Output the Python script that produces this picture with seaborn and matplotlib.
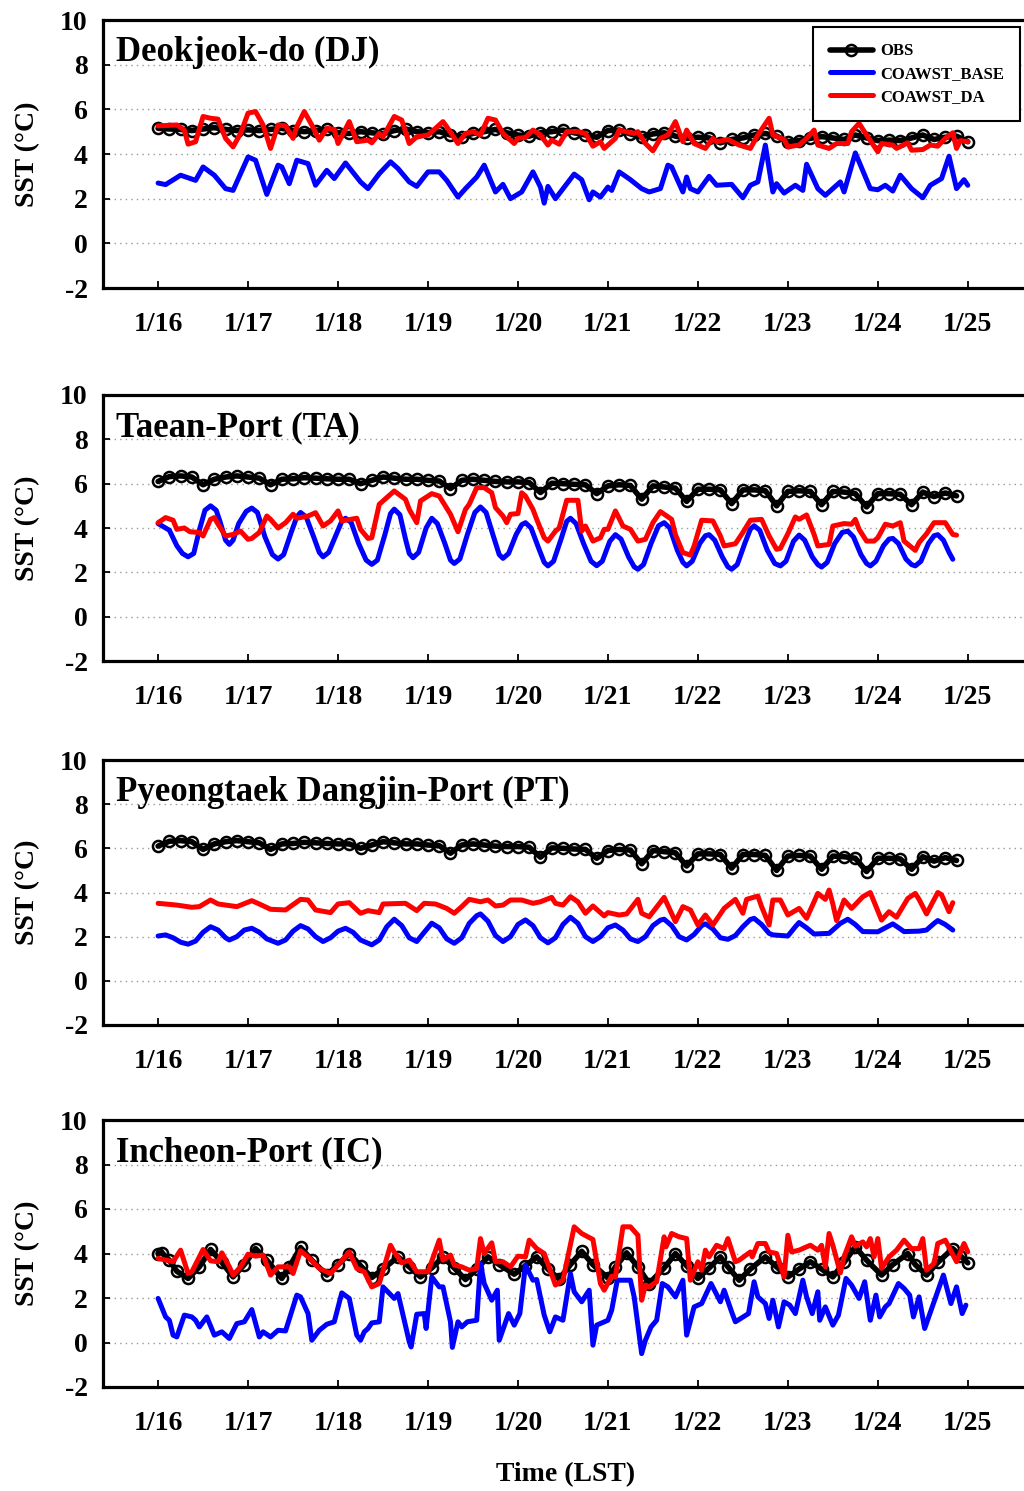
import numpy as np
import pandas as pd
import matplotlib
matplotlib.use("Agg")
import matplotlib.pyplot as plt
import seaborn as sns

# ---------------- data (hours after 1/16 00:00 LST, SST in degC) ----------------
day_labels = ["1/16", "1/17", "1/18", "1/19", "1/20", "1/21", "1/22", "1/23", "1/24", "1/25"]
y_ticks = [-2, 0, 2, 4, 6, 8, 10]
series_names = ["OBS", "COAWST_BASE", "COAWST_DA"]
titles = ["Deokjeok-do (DJ)", "Taean-Port (TA)", "Pyeongtaek Dangjin-Port (PT)", "Incheon-Port (IC)"]

# Deokjeok-do
dj_obs_h = list(range(0, 217, 3))
dj_obs = [5.15, 5.12, 5.10, 5.05, 5.12, 5.18, 5.10, 5.05,
          5.08, 5.05, 5.10, 5.15, 5.05, 5.00, 5.05, 5.10,
          4.95, 4.92, 5.00, 4.95, 4.90, 5.05, 5.12, 5.00,
          4.95, 5.00, 4.85, 4.78, 4.92, 5.00, 5.10, 4.95,
          4.85, 4.80, 4.95, 5.00, 5.07, 4.95, 4.85, 4.75,
          5.05, 5.07, 4.90, 4.75, 4.90, 4.95, 4.80, 4.70,
          4.75, 4.72, 4.50, 4.65, 4.72, 4.85, 4.92, 4.80,
          4.55, 4.60, 4.70, 4.78, 4.72, 4.65, 4.85, 4.72,
          4.60, 4.62, 4.60, 4.72, 4.85, 4.65, 4.75, 4.80,
          4.55]
dj_base_pts = [(0, 2.70), (2, 2.63), (6, 3.05), (10, 2.82), (12, 3.42), (15, 3.05), (18, 2.45), (20, 2.37),
               (24, 3.87), (26, 3.72), (29, 2.19), (32, 3.50), (33, 3.42), (35, 2.67), (37, 3.72), (40, 3.57),
               (42, 2.60), (45, 3.27), (47, 2.90), (50, 3.60), (54, 2.75), (56, 2.45), (59, 3.12), (62, 3.65),
               (64, 3.35), (67, 2.75), (69, 2.55), (72, 3.20), (75, 3.20), (77, 2.82), (80, 2.07), (82, 2.45),
               (85, 2.97), (87, 3.50), (90, 2.30), (92, 2.64), (94, 2.00), (97, 2.30), (100, 3.20), (102, 2.52),
               (103, 1.80), (104, 2.55), (106, 2.00), (111, 3.10), (113, 2.85), (115, 1.95), (116, 2.30), (118, 2.07),
               (120, 2.52), (121, 2.37), (123, 3.20), (126, 2.85), (129, 2.45), (131, 2.30), (134, 2.45), (136, 3.50),
               (137, 3.42), (140, 2.30), (141, 2.97), (142, 2.45), (144, 2.30), (147, 3.00), (149, 2.60), (153, 2.64),
               (156, 2.04), (158, 2.60), (160, 2.75), (162, 4.40), (164, 2.30), (165, 2.67), (167, 2.25), (170, 2.60),
               (172, 2.37), (173, 3.54), (176, 2.45), (178, 2.15), (182, 2.75), (183, 2.30), (186, 4.05), (190, 2.45),
               (192, 2.40), (194, 2.60), (196, 2.34), (198, 3.05), (201, 2.45), (204, 2.04), (206, 2.60), (209, 2.90),
               (211, 3.90), (213, 2.45), (215, 2.85), (216, 2.60)]
dj_da_pts = [(0, 5.26), (5, 5.30), (7, 5.07), (8, 4.44), (10, 4.55), (12, 5.68), (14, 5.60), (16, 5.56),
             (18, 4.70), (20, 4.32), (22, 4.92), (24, 5.83), (26, 5.90), (28, 5.30), (30, 4.25), (32, 5.30),
             (34, 5.26), (36, 4.70), (37, 5.22), (39, 5.90), (41, 5.30), (43, 4.62), (45, 5.15), (47, 5.10),
             (48, 4.47), (51, 5.45), (53, 4.55), (56, 4.62), (57, 4.50), (59, 4.92), (60, 4.77), (63, 5.68),
             (65, 5.52), (67, 4.47), (69, 4.77), (72, 4.85), (76, 5.45), (77, 5.22), (80, 4.47), (82, 4.92),
             (84, 5.00), (86, 4.85), (88, 5.60), (90, 5.52), (92, 4.92), (95, 4.47), (96, 4.70), (98, 4.74),
             (100, 5.07), (102, 4.85), (104, 4.40), (105, 4.62), (107, 4.44), (109, 5.00), (112, 5.00), (114, 4.92),
             (116, 4.35), (118, 4.55), (119, 4.25), (122, 4.70), (123, 5.07), (127, 4.92), (128, 5.00), (130, 4.47),
             (132, 4.14), (134, 4.70), (136, 4.85), (138, 5.45), (140, 4.55), (141, 5.07), (143, 4.47), (146, 4.25),
             (148, 4.70), (149, 4.55), (152, 4.65), (155, 4.40), (158, 4.25), (160, 4.85), (163, 5.60), (164, 4.85),
             (167, 4.65), (168, 4.32), (171, 4.40), (173, 4.70), (175, 5.07), (176, 4.40), (179, 4.25), (181, 4.47),
             (184, 4.47), (185, 5.00), (187, 5.37), (189, 4.85), (192, 4.10), (193, 4.47), (196, 4.40), (197, 4.25),
             (200, 4.50), (201, 4.17), (204, 4.20), (206, 4.40), (208, 4.35), (210, 4.70), (212, 4.95), (213, 4.25),
             (214, 4.60), (216, 4.55)]

# Taean-Port
ta_obs_h = list(range(0, 214, 3))
ta_obs = [6.10, 6.32, 6.35, 6.30, 5.95, 6.20, 6.30, 6.35,
          6.30, 6.25, 5.95, 6.20, 6.22, 6.27, 6.25, 6.22,
          6.20, 6.20, 6.00, 6.15, 6.30, 6.25, 6.20, 6.20,
          6.15, 6.12, 5.78, 6.15, 6.20, 6.15, 6.10, 6.08,
          6.08, 6.05, 5.60, 6.02, 6.00, 5.97, 5.95, 5.55,
          5.90, 5.95, 5.92, 5.30, 5.90, 5.85, 5.80, 5.20,
          5.75, 5.75, 5.72, 5.10, 5.72, 5.72, 5.68, 5.00,
          5.65, 5.68, 5.65, 5.05, 5.65, 5.62, 5.55, 4.95,
          5.55, 5.55, 5.52, 5.05, 5.62, 5.42, 5.58, 5.45]
ta_base_pts = [(0, 4.20), (3, 3.90), (5, 3.20), (6.5, 2.85), (8, 2.70), (9.5, 2.85), (11, 3.90), (12.5, 4.80),
               (14, 5.00), (15.5, 4.80), (16.5, 4.30), (18, 3.45), (19, 3.26), (20, 3.45), (21.5, 4.20), (23.5, 4.75),
               (25, 4.90), (26.5, 4.70), (28.5, 3.60), (30.5, 2.80), (32, 2.60), (33.5, 2.80), (35.5, 3.80), (37, 4.50),
               (38, 4.70), (39.5, 4.50), (41.5, 3.60), (43, 2.90), (44, 2.70), (45.5, 2.90), (47.5, 3.70), (49, 4.30),
               (50, 4.44), (51.5, 4.25), (53.5, 3.30), (55.5, 2.55), (57, 2.36), (58.5, 2.55), (60.5, 3.70), (62, 4.65),
               (63, 4.85), (64.5, 4.60), (66, 3.50), (67, 2.85), (68, 2.66), (69.5, 2.90), (71.5, 4.00), (73, 4.44),
               (74.5, 4.20), (76.5, 3.30), (78, 2.55), (79, 2.40), (80.5, 2.60), (82.5, 3.70), (84.5, 4.70), (86, 4.95),
               (87.5, 4.70), (89.5, 3.60), (91, 2.80), (92, 2.63), (93.5, 2.85), (95.5, 3.70), (97, 4.15), (98, 4.24),
               (99.5, 4.00), (101.5, 3.10), (103, 2.45), (104, 2.29), (105.5, 2.50), (107.5, 3.50), (109, 4.30), (110, 4.44),
               (111.5, 4.20), (113.5, 3.30), (115.5, 2.50), (117, 2.30), (118.5, 2.50), (120.5, 3.40), (122, 3.70), (123.5, 3.50),
               (125.5, 2.70), (127, 2.25), (128, 2.14), (129.5, 2.35), (131.5, 3.30), (133.5, 4.10), (135, 4.24), (136.5, 4.00),
               (138.5, 3.00), (140, 2.45), (141, 2.29), (142.5, 2.50), (144.5, 3.30), (146, 3.65), (147, 3.70), (148.5, 3.45),
               (150.5, 2.70), (152, 2.25), (153, 2.14), (154.5, 2.35), (156.5, 3.30), (158, 3.95), (159, 4.10), (160.5, 3.90),
               (162.5, 3.00), (164.5, 2.40), (166, 2.29), (167.5, 2.50), (169.5, 3.40), (171, 3.68), (172.5, 3.45), (174.5, 2.70),
               (176, 2.35), (177, 2.24), (178.5, 2.45), (180.5, 3.30), (182.5, 3.80), (184, 3.86), (185.5, 3.60), (187.5, 2.80),
               (189, 2.40), (190, 2.29), (191.5, 2.50), (193.5, 3.20), (195, 3.50), (196, 3.53), (197.5, 3.30), (199.5, 2.60),
               (201, 2.35), (202, 2.29), (203.5, 2.50), (205.5, 3.30), (207, 3.65), (208, 3.70), (209.5, 3.45), (211, 2.90),
               (212, 2.59)]
ta_da_pts = [(0, 4.24), (2, 4.47), (4, 4.35), (5, 3.94), (7, 4.00), (8.5, 3.83), (11, 3.80), (12, 3.64),
             (14, 4.39), (15, 4.47), (16, 4.17), (18, 3.64), (20, 3.71), (22, 3.86), (24, 3.49), (25, 3.53),
             (27, 3.80), (29, 4.54), (30, 4.39), (32, 4.00), (34, 4.24), (36, 4.62), (37, 4.44), (40, 4.54),
             (42, 4.69), (44, 4.09), (46, 4.32), (48, 4.77), (49, 4.32), (53, 4.44), (54, 3.94), (56, 3.53),
             (57, 3.56), (59, 5.07), (62, 5.52), (63, 5.67), (66, 5.29), (67, 4.84), (69, 4.24), (70, 5.22),
             (73, 5.55), (75, 5.44), (78, 4.62), (80, 3.83), (82, 4.84), (83, 5.07), (85, 5.82), (87, 5.82),
             (89, 5.59), (90, 4.92), (92, 4.54), (93, 4.24), (94, 4.62), (96, 4.65), (97, 5.59), (98, 5.44),
             (100, 4.84), (101, 4.39), (103, 3.56), (104, 3.41), (106, 3.86), (107, 4.00), (109, 5.25), (112, 5.25),
             (113, 3.86), (114, 4.09), (116, 3.41), (118, 3.56), (119, 3.94), (120, 3.94), (122, 4.77), (124, 4.09),
             (126, 3.94), (128, 3.41), (130, 3.49), (132, 4.24), (134, 4.74), (137, 4.39), (138, 3.71), (140, 2.89),
             (142, 2.78), (143, 3.19), (145, 4.35), (148, 4.32), (150, 3.64), (151, 3.19), (154, 3.29), (156, 3.80),
             (158, 4.35), (161, 4.39), (163, 3.64), (165, 3.04), (166, 3.08), (168, 3.74), (170, 4.50), (171, 4.39),
             (173, 4.59), (175, 3.71), (176, 3.19), (179, 3.26), (180, 4.09), (183, 4.20), (185, 4.17), (186, 4.39),
             (187, 3.94), (189, 3.41), (191, 3.41), (192, 3.56), (194, 4.17), (196, 4.09), (198, 4.24), (199, 3.41),
             (202, 2.99), (203, 3.34), (205, 3.74), (207, 4.24), (208, 4.24), (210, 4.24), (212, 3.71), (213, 3.68)]

# Pyeongtaek Dangjin-Port (observations identical to TA in the figure)
pt_obs_h = list(range(0, 214, 3))
pt_obs = [6.10, 6.32, 6.35, 6.30, 5.95, 6.20, 6.30, 6.35,
          6.30, 6.25, 5.95, 6.20, 6.22, 6.27, 6.25, 6.22,
          6.20, 6.20, 6.00, 6.15, 6.30, 6.25, 6.20, 6.20,
          6.15, 6.12, 5.78, 6.15, 6.20, 6.15, 6.10, 6.08,
          6.08, 6.05, 5.60, 6.02, 6.00, 5.97, 5.95, 5.55,
          5.90, 5.95, 5.92, 5.30, 5.90, 5.85, 5.80, 5.20,
          5.75, 5.75, 5.72, 5.10, 5.72, 5.72, 5.68, 5.00,
          5.65, 5.68, 5.65, 5.05, 5.65, 5.62, 5.55, 4.95,
          5.55, 5.55, 5.52, 5.05, 5.62, 5.42, 5.58, 5.45]
pt_base_pts = [(0, 2.03), (2, 2.08), (4, 1.95), (6, 1.75), (8, 1.66), (10, 1.80), (12, 2.20), (14, 2.45),
               (16, 2.30), (18, 1.95), (19, 1.85), (21, 2.00), (23, 2.30), (25, 2.38), (27, 2.20), (29, 1.90),
               (32, 1.70), (34, 1.85), (36, 2.25), (38, 2.50), (40, 2.35), (42, 2.00), (44, 1.78), (46, 1.95),
               (48, 2.25), (50, 2.38), (52, 2.20), (54, 1.85), (57, 1.63), (59, 1.85), (61, 2.45), (63, 2.79),
               (65, 2.50), (67, 1.95), (69, 1.78), (71, 2.20), (73, 2.61), (75, 2.40), (77, 1.90), (79, 1.70),
               (81, 1.95), (83, 2.60), (85, 2.95), (86, 3.03), (88, 2.70), (90, 2.05), (92, 1.78), (94, 2.00),
               (96, 2.55), (98, 2.76), (100, 2.50), (102, 1.95), (104, 1.72), (106, 1.95), (108, 2.55), (110, 2.88),
               (112, 2.60), (114, 2.00), (116, 1.78), (118, 2.00), (120, 2.40), (122, 2.53), (124, 2.30), (126, 1.90),
               (128, 1.78), (130, 2.00), (132, 2.50), (134, 2.75), (135, 2.79), (137, 2.50), (139, 2.00), (141, 1.85),
               (143, 2.10), (145, 2.50), (146, 2.58), (148, 2.35), (150, 1.95), (152, 1.88), (154, 2.05), (156, 2.45),
               (158, 2.78), (159, 2.83), (161, 2.55), (163, 2.15), (164, 2.08), (168, 2.03), (170, 2.45), (171, 2.64),
               (173, 2.40), (175, 2.12), (179, 2.15), (182, 2.60), (184, 2.79), (186, 2.55), (188, 2.23), (192, 2.22),
               (194, 2.40), (196, 2.58), (198, 2.35), (199, 2.23), (203, 2.25), (205, 2.30), (207, 2.60), (208, 2.73),
               (210, 2.55), (212, 2.30)]
pt_da_pts = [(0, 3.51), (5, 3.43), (9, 3.33), (11, 3.36), (14, 3.66), (16, 3.48), (21, 3.36), (25, 3.63),
             (27, 3.48), (30, 3.24), (34, 3.21), (38, 3.69), (40, 3.66), (42, 3.21), (46, 3.09), (48, 3.48),
             (51, 3.54), (54, 3.06), (56, 3.18), (59, 3.09), (60, 3.48), (66, 3.51), (69, 3.18), (71, 3.51),
             (74, 3.48), (77, 3.28), (79, 3.06), (81, 3.36), (83, 3.69), (86, 3.58), (88, 3.66), (90, 3.39),
             (92, 3.43), (94, 3.66), (97, 3.66), (100, 3.51), (102, 3.58), (105, 3.78), (106, 3.51), (108, 3.43),
             (110, 3.81), (112, 3.58), (114, 3.06), (116, 3.39), (119, 2.94), (120, 3.09), (123, 2.98), (125, 3.03),
             (128, 3.69), (129, 3.06), (131, 2.90), (135, 3.78), (138, 2.68), (140, 3.36), (142, 3.21), (144, 2.53),
             (146, 2.98), (148, 2.53), (151, 3.28), (154, 3.69), (156, 3.06), (157, 3.69), (160, 3.84), (161, 3.36),
             (163, 2.53), (164, 3.66), (166, 3.66), (168, 2.98), (171, 3.28), (173, 2.83), (176, 3.96), (178, 3.69),
             (179, 4.11), (180, 3.48), (181, 2.73), (183, 3.66), (185, 3.28), (188, 3.81), (190, 4.00), (193, 2.75),
             (195, 3.13), (197, 2.88), (200, 3.73), (202, 3.96), (203, 3.69), (205, 3.03), (208, 4.00), (209, 3.90),
             (211, 3.13), (212, 3.54)]

# Incheon-Port
ic_obs_pts = [(0, 4.00), (1, 4.03), (3, 3.70), (5, 3.20), (8, 2.88), (11, 3.40), (14, 4.18), (17, 3.60),
              (20, 2.95), (23, 3.50), (26, 4.22), (29, 3.70), (33, 2.88), (35, 3.40), (38, 4.27), (41, 3.70),
              (45, 3.03), (48, 3.50), (51, 4.00), (54, 3.45), (57, 2.92), (60, 3.30), (64, 3.85), (67, 3.40),
              (70, 2.95), (73, 3.35), (76, 3.85), (79, 3.35), (82, 2.83), (85, 3.30), (88, 3.85), (91, 3.50),
              (95, 3.07), (98, 3.45), (101, 3.85), (104, 3.30), (107, 2.85), (110, 3.50), (113, 4.10), (116, 3.50),
              (120, 2.90), (122, 3.40), (125, 4.03), (128, 3.40), (131, 2.65), (135, 3.35), (138, 4.00), (141, 3.45),
              (144, 2.88), (147, 3.35), (150, 3.85), (152, 3.40), (155, 2.80), (158, 3.30), (162, 3.85), (165, 3.40),
              (168, 2.95), (171, 3.30), (174, 3.63), (177, 3.30), (180, 2.95), (183, 3.60), (186, 4.30), (189, 3.70),
              (193, 3.03), (196, 3.50), (200, 4.00), (202, 3.50), (205, 3.03), (208, 3.60), (212, 4.22), (214, 3.90),
              (216, 3.58)]
ic_base_pts = [(0, 1.98), (2, 1.15), (3, 1.00), (4, 0.33), (5, 0.25), (7, 1.23), (9, 1.15), (10, 1.00),
               (11, 0.70), (13, 1.15), (15, 0.33), (17, 0.48), (19, 0.18), (21, 0.85), (23, 0.93), (25, 1.48),
               (27, 0.25), (28, 0.48), (30, 0.25), (32, 0.55), (34, 0.52), (37, 2.13), (38, 2.05), (40, 1.30),
               (41, 0.10), (43, 0.55), (45, 0.82), (47, 0.93), (49, 2.23), (51, 1.98), (53, 0.33), (54, 0.10),
               (55, 0.48), (56, 0.63), (57, 0.88), (59, 0.93), (60, 2.50), (63, 1.98), (64, 2.20), (67, 0.03),
               (67.5, -0.20), (69, 1.27), (71, 1.30), (71.5, 0.63), (73, 2.95), (75, 2.50), (76, 2.50), (78, 0.93),
               (78.5, -0.22), (80, 0.93), (81, 0.70), (82.5, 0.93), (85, 1.00), (86, 3.55), (87, 2.65), (89, 1.90),
               (90.5, 2.35), (91, 0.10), (93.5, 1.30), (95, 0.78), (96.5, 1.30), (98, 3.48), (100, 2.80), (101, 2.83),
               (103, 1.23), (104.5, 0.48), (106, 1.15), (108, 1.00), (110, 3.10), (111, 2.28), (113, 1.83), (115, 2.35),
               (116, -0.12), (117, 0.78), (120, 1.00), (121, 1.45), (122.5, 2.80), (126, 2.80), (127, 2.05), (129, -0.50),
               (130, 0.10), (131.5, 0.70), (133, 1.00), (134.5, 2.65), (136, 2.50), (138, 2.05), (140, 2.80), (141, 0.33),
               (143, 1.60), (145, 1.75), (147.5, 2.65), (150, 1.83), (151, 2.35), (153, 1.38), (154, 0.93), (157.5, 1.30),
               (159, 2.73), (160, 2.05), (162, 1.75), (163, 1.08), (164, 1.90), (165.5, 0.70), (167, 1.83), (168.5, 1.68),
               (170, 1.30), (172, 2.80), (173, 2.05), (174.5, 1.30), (176, 2.28), (176.5, 1.00), (178, 1.60), (180, 0.78),
               (181.5, 1.23), (183.5, 2.88), (185, 2.58), (187, 1.98), (188.5, 2.73), (190, 1.00), (191.5, 2.13), (192.5, 1.15),
               (194, 1.60), (195, 1.75), (197.5, 2.65), (199, 2.43), (200.5, 2.13), (201.5, 1.15), (203, 2.05), (204.5, 0.63),
               (207, 1.83), (209.5, 3.03), (211.5, 1.75), (213, 2.50), (214.5, 1.30), (215.5, 1.68)]
ic_da_pts = [(0, 3.78), (4, 3.63), (6, 4.15), (8, 3.10), (9, 3.18), (12, 4.18), (14, 3.67), (16, 3.63),
             (17, 4.03), (19, 3.40), (20, 3.03), (22, 3.40), (24, 3.97), (26, 3.88), (28, 3.93), (30, 3.03),
             (32, 3.40), (35, 3.40), (36, 3.10), (38, 4.12), (40, 3.85), (43, 3.33), (46, 3.10), (48, 3.48),
             (51, 4.07), (53, 3.33), (55, 3.18), (57, 2.50), (59, 2.65), (62, 4.37), (63, 4.07), (65, 3.58),
             (67, 3.70), (69, 3.18), (72, 3.18), (75, 4.60), (76, 3.70), (78, 3.93), (79, 3.48), (81, 3.40),
             (83, 3.25), (85, 3.33), (86, 4.67), (87, 4.00), (89, 4.48), (90, 3.63), (92, 3.63), (94, 3.40),
             (96, 3.88), (98, 3.85), (99, 4.60), (101, 4.22), (103, 4.00), (106, 2.58), (108, 2.80), (111, 5.20),
             (113, 4.90), (116, 4.63), (118, 2.65), (119, 2.35), (121, 2.98), (122, 2.95), (124, 5.20), (126, 5.20),
             (128, 4.82), (129, 1.90), (130, 2.58), (131, 2.50), (133, 2.73), (135, 4.75), (135.5, 4.30), (137, 4.90),
             (139, 4.75), (141, 4.67), (142, 2.80), (144, 3.63), (145, 3.25), (146, 4.15), (147, 3.85), (149, 4.37),
             (151, 4.22), (152, 4.67), (154, 3.63), (155, 3.70), (158, 4.07), (158.5, 3.85), (160, 4.45), (162, 4.45),
             (163, 4.07), (165, 4.00), (167, 2.95), (168, 4.82), (169, 4.07), (171, 4.15), (173, 4.30), (174, 4.37),
             (176, 4.15), (177, 4.37), (178, 3.40), (179, 4.90), (180, 4.37), (182, 3.13), (183, 3.85), (185, 4.75),
             (186, 4.33), (188, 4.52), (189, 4.30), (190, 4.67), (191, 3.85), (192, 4.67), (193, 3.33), (195, 3.85),
             (197, 4.15), (199, 4.60), (201, 4.22), (203, 4.22), (204, 4.67), (205, 3.25), (207, 3.55), (208, 4.45),
             (210, 4.60), (213, 3.63), (215, 4.45), (216, 4.07)]


def split(pts):
    h, v = zip(*pts)
    return list(h), list(v)


panels = [
    (dj_obs_h, dj_obs, *split(dj_base_pts), *split(dj_da_pts)),
    (ta_obs_h, ta_obs, *split(ta_base_pts), *split(ta_da_pts)),
    (pt_obs_h, pt_obs, *split(pt_base_pts), *split(pt_da_pts)),
    (*split(ic_obs_pts), *split(ic_base_pts), *split(ic_da_pts)),
]

# ---------------- style ----------------
sns.set_style("ticks")
plt.rcParams["font.family"] = ["Liberation Serif", "DejaVu Serif"]
plt.rcParams["font.weight"] = "bold"
plt.rcParams["axes.labelweight"] = "bold"
plt.rcParams["text.color"] = "black"
plt.rcParams["axes.labelcolor"] = "black"
plt.rcParams["xtick.color"] = "black"
plt.rcParams["ytick.color"] = "black"
plt.rcParams["xtick.labelcolor"] = "black"
plt.rcParams["ytick.labelcolor"] = "black"

W, H = 1024, 1491
fig = plt.figure(figsize=(W / 100, H / 100), dpi=100)
boxes = [(20, 288), (395, 661), (760, 1025), (1120, 1387)]  # top, bottom in px
left_px = 103

for i, ((oh, ov, bh, bv, dh, dv), (top, bot)) in enumerate(zip(panels, boxes)):
    ax = fig.add_axes([left_px / W, 1 - bot / H, (W - left_px) / W, (bot - top) / H])
    sns.lineplot(x=oh, y=ov, ax=ax, color="black", linewidth=4, marker="o", markersize=8,
                 markerfacecolor="none", markeredgecolor="black", markeredgewidth=1.8,
                 sort=False, estimator=None, label=series_names[0])
    sns.lineplot(x=bh, y=bv, ax=ax, color="#0000ff", linewidth=3.6,
                 sort=False, estimator=None, label=series_names[1])
    sns.lineplot(x=dh, y=dv, ax=ax, color="#ff0000", linewidth=3.6,
                 sort=False, estimator=None, label=series_names[2])

    ax.set_xlim(-14.7, 231)
    ax.set_ylim(-2, 10)
    ax.set_xticks(range(0, 217, 24))
    ax.set_xticklabels(day_labels)
    ax.set_yticks(y_ticks)
    ax.set_yticklabels([str(t) for t in y_ticks])
    ax.yaxis.grid(True, linestyle=(0, (1, 3)), color="#999999", linewidth=1.0)
    ax.xaxis.grid(False)
    ax.tick_params(axis="both", direction="in", length=5, width=1.3, labelsize=20,
                   colors="black")
    ax.tick_params(axis="x", pad=17)
    ax.tick_params(axis="y", pad=11)
    for lab in ax.get_xticklabels() + ax.get_yticklabels():
        lab.set_fontweight("bold")
        lab.set_color("black")
    for s in ["left", "top", "bottom"]:
        ax.spines[s].set_linewidth(2.3)
        ax.spines[s].set_color("black")
    ax.spines["right"].set_visible(False)

    ax.set_xlabel("")
    ax.set_ylabel("SST (°C)", fontsize=20, fontweight="bold", color="black")
    ax.yaxis.set_label_coords(-0.068, 0.5)

    ax.text(0.014, 0.878, titles[i], transform=ax.transAxes, fontsize=25,
            fontweight="bold", ha="left", va="center", color="black")

    leg = ax.get_legend()
    if leg is not None:
        leg.remove()
    if i == 0:
        lg = ax.legend(loc="upper right", bbox_to_anchor=(0.996, 0.975), borderaxespad=0,
                       frameon=True, fancybox=False, framealpha=1,
                       edgecolor="black", handlelength=2.6, handletextpad=0.4,
                       borderpad=1.0, labelspacing=0.4,
                       prop={"family": "Liberation Serif", "weight": "bold", "size": 12})
        lg.get_frame().set_linewidth(1.5)
        for t in lg.get_texts():
            t.set_color("black")

fig.text(566 / W, 1 - 1475 / H, "Time (LST)", ha="center", va="center",
         fontsize=20, fontweight="bold", color="black")

fig.savefig("out.png", dpi=100)
